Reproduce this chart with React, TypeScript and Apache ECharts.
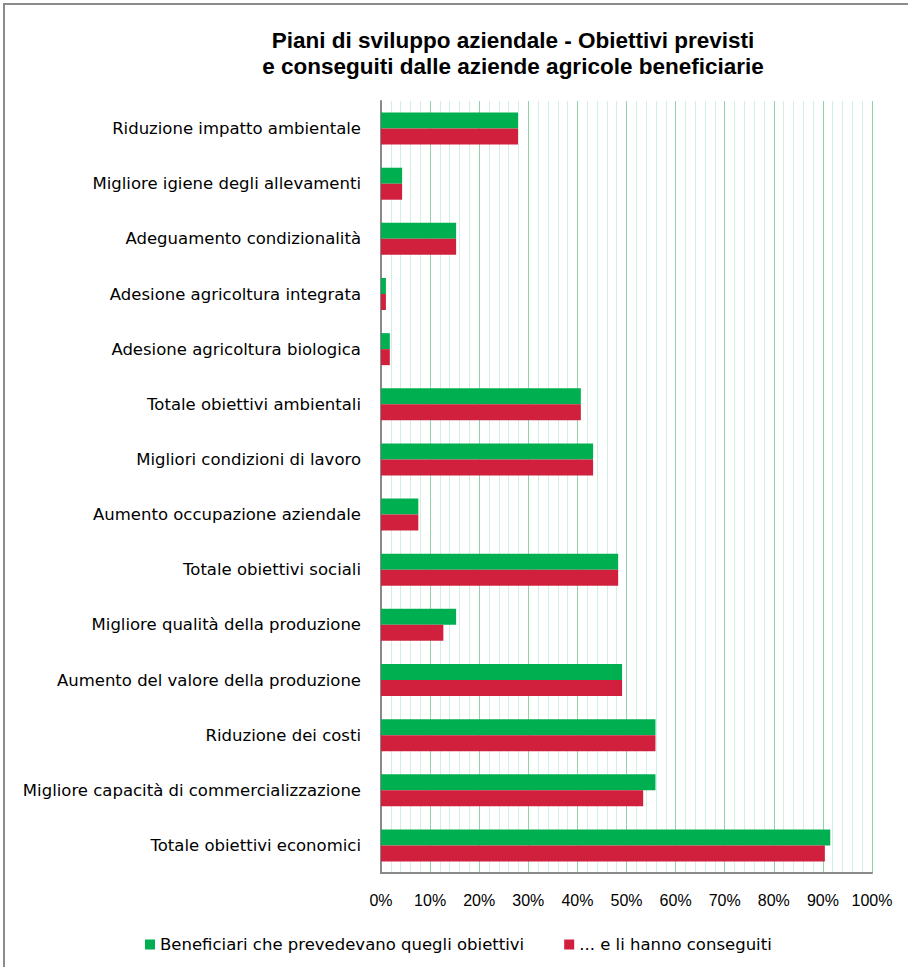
import React, { useEffect, useRef } from "react";
import * as echarts from "echarts";

const categories = [
  "Riduzione impatto ambientale",
  "Migliore igiene degli allevamenti",
  "Adeguamento condizionalità",
  "Adesione agricoltura integrata",
  "Adesione agricoltura biologica",
  "Totale obiettivi ambientali",
  "Migliori condizioni di lavoro",
  "Aumento occupazione aziendale",
  "Totale obiettivi sociali",
  "Migliore qualità della produzione",
  "Aumento del valore della produzione",
  "Riduzione dei costi",
  "Migliore capacità di commercializzazione",
  "Totale obiettivi economici",
];

const previsti = [27.9, 4.3, 15.3, 1.0, 1.8, 40.7, 43.2, 7.6, 48.3, 15.3, 49.1, 55.9, 55.9, 91.5];
const conseguiti = [27.9, 4.3, 15.3, 1.0, 1.8, 40.7, 43.2, 7.6, 48.3, 12.7, 49.1, 55.9, 53.4, 90.4];

const seriesNames = ["Beneficiari che prevedevano quegli obiettivi", "... e li hanno conseguiti"];
const titleLines = ["Piani di sviluppo aziendale - Obiettivi previsti", "e conseguiti dalle aziende agricole beneficiarie"];

const FONT = "Liberation Sans";
const LABEL_FONT = "DejaVu Sans";

export default function App() {
  const ref = useRef<HTMLDivElement>(null);
  useEffect(() => {
    document.body.style.margin = "0";
    if (!ref.current) return;
    const chart = echarts.init(ref.current, null, { renderer: "svg" });
    chart.setOption({
      animation: false,
      backgroundColor: "#ffffff",
      textStyle: { fontFamily: FONT },
      title: {
        text: titleLines.join("\n"),
        left: 513,
        textAlign: "center",
        top: 27,
        padding: 0,
        textStyle: { fontSize: 22.5, fontWeight: "bold", color: "#000", lineHeight: 26, fontFamily: FONT },
      },
      legend: {
        left: 145,
        top: 936,
        padding: 0,
        itemWidth: 10,
        itemHeight: 10,
        itemGap: 40,
        icon: "rect",
        textStyle: { fontSize: 16.5, color: "#000", fontFamily: LABEL_FONT },
        data: seriesNames,
      },
      grid: { left: 381, right: 36, top: 101, bottom: 94, containLabel: false },
      xAxis: {
        type: "value",
        min: 0,
        max: 100,
        interval: 10,
        axisLine: { show: true, lineStyle: { color: "#898989", width: 2 } },
        axisTick: { show: false },
        axisLabel: { formatter: "{value}%", fontSize: 16, color: "#000", margin: 19, fontFamily: FONT },
        splitLine: { show: true, lineStyle: { color: "#8fd5a8", width: 1 } },
        minorTick: { show: false, splitNumber: 5 },
        minorSplitLine: { show: true, lineStyle: { color: "#d3efdf", width: 1 } },
      },
      yAxis: {
        type: "category",
        inverse: true,
        data: categories,
        axisLine: { show: true, lineStyle: { color: "#898989", width: 2 } },
        axisTick: { show: false },
        axisLabel: { fontSize: 16.5, color: "#000", margin: 20, fontFamily: LABEL_FONT },
      },
      series: [
        {
          name: seriesNames[0],
          type: "bar",
          data: previsti,
          barWidth: 16,
          barGap: "0%",
          itemStyle: { color: "#00b050" },
        },
        {
          name: seriesNames[1],
          type: "bar",
          data: conseguiti,
          barWidth: 16,
          barGap: "0%",
          itemStyle: { color: "#d0203e" },
        },
      ],
      graphic: [
        {
          type: "rect",
          shape: { x: 4, y: 4, width: 1000, height: 1000 },
          style: { fill: "none", stroke: "#8c8c8c", lineWidth: 2 },
          silent: true,
        },
      ],
    });
    return () => chart.dispose();
  }, []);
  return <div ref={ref} style={{ width: 908, height: 967 }} />;
}
